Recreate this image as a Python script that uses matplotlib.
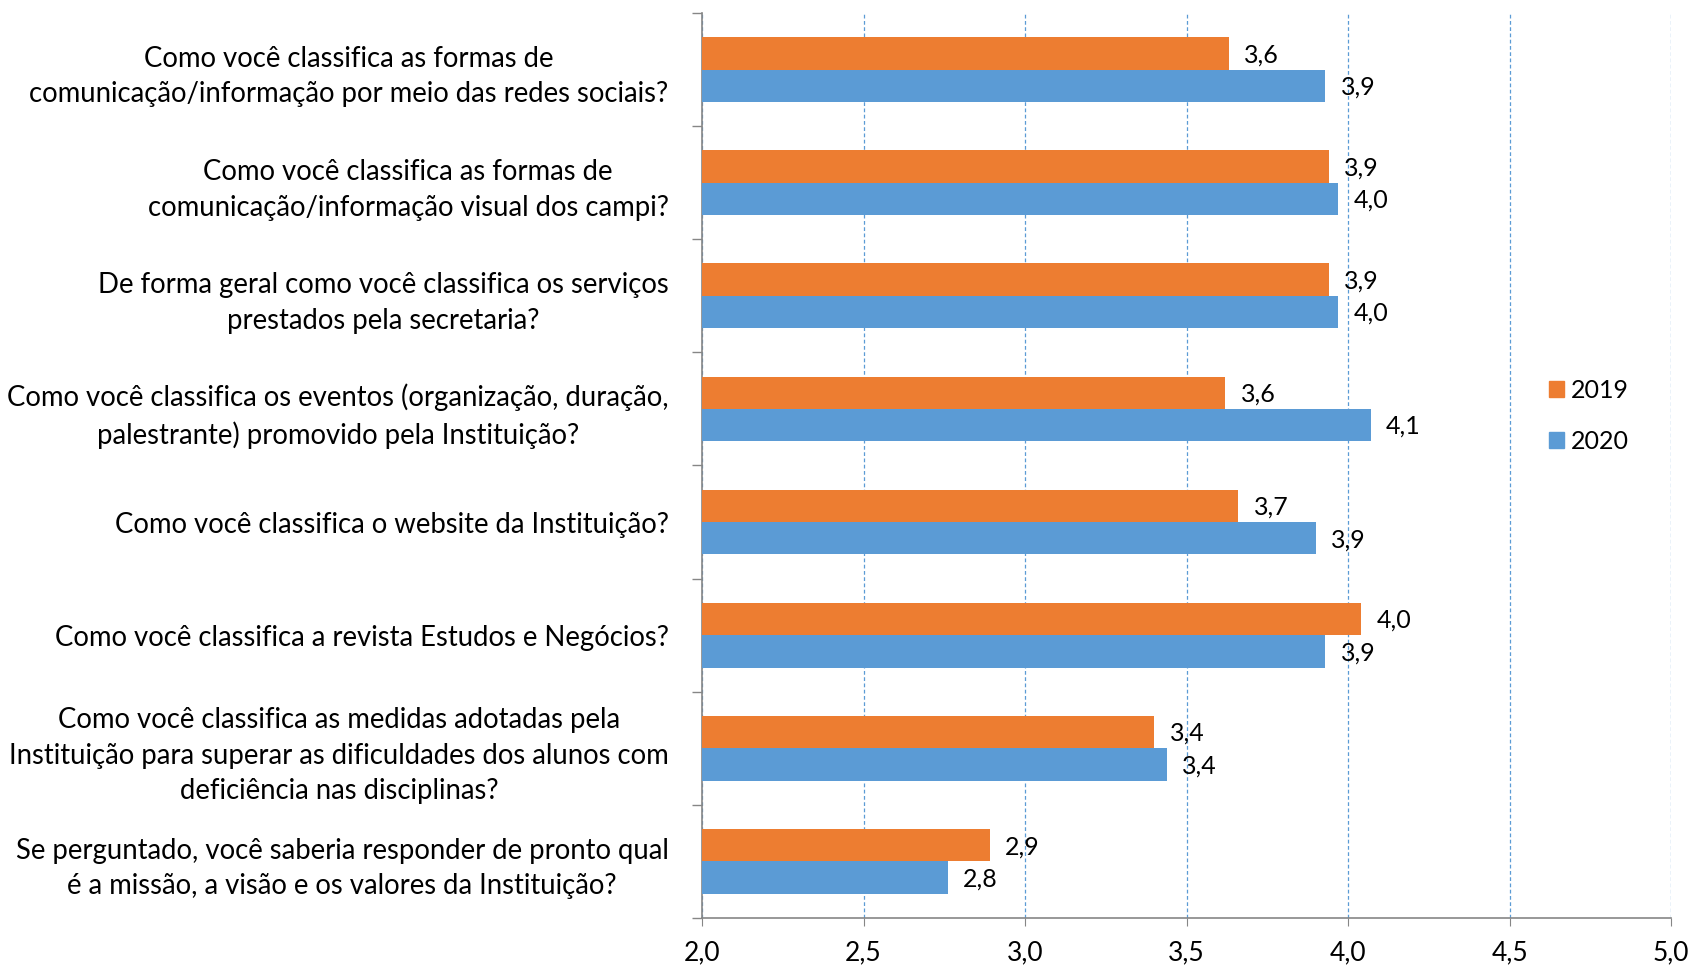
import matplotlib.pyplot as plt
from matplotlib.patches import Patch
from matplotlib.ticker import FuncFormatter, MultipleLocator
import numpy as np

plt.rcParams['font.family'] = ['Lato', 'DejaVu Sans']

questions = [
    "Como você classifica as formas de\ncomunicação/informação por meio das redes sociais?",
    "Como você classifica as formas de\ncomunicação/informação visual dos campi?",
    "De forma geral como você classifica os serviços\nprestados pela secretaria?",
    "Como você classifica os eventos (organização, duração,\npalestrante) promovido pela Instituição?",
    "Como você classifica o website da Instituição?",
    "Como você classifica a revista Estudos e Negócios?",
    "Como você classifica as medidas adotadas pela\nInstituição para superar as dificuldades dos alunos com\ndeficiência nas disciplinas?",
    "Se perguntado, você saberia responder de pronto qual\né a missão, a visão e os valores da Instituição?",
]
vals_2019 = [3.63, 3.94, 3.94, 3.62, 3.66, 4.04, 3.40, 2.89]
vals_2020 = [3.93, 3.97, 3.97, 4.07, 3.90, 3.93, 3.44, 2.76]
series = ["2019", "2020"]
colors = ["#ED7D31", "#5B9BD5"]

fig = plt.figure(figsize=(16.9, 9.67), dpi=100)
ax = fig.add_axes([0.4154, 0.0507, 0.5734, 0.9359])

y = np.arange(len(questions))
h = 0.286
ax.barh(y - h/2, vals_2019, height=h, left=0, color=colors[0], zorder=3)
ax.barh(y + h/2, vals_2020, height=h, left=0, color=colors[1], zorder=3)

def fmt(v):
    return ("%.1f" % v).replace(".", ",")

for i in range(len(questions)):
    ax.annotate(fmt(vals_2019[i]), (vals_2019[i], y[i] - h/2), xytext=(11, -1),
                textcoords="offset points", va="center", ha="left", fontsize=18, zorder=4)
    ax.annotate(fmt(vals_2020[i]), (vals_2020[i], y[i] + h/2), xytext=(11, -1),
                textcoords="offset points", va="center", ha="left", fontsize=18, zorder=4)

ax.set_xlim(2.0, 5.0)
ax.set_ylim(len(questions) - 0.5, -0.5)
ax.xaxis.set_major_locator(MultipleLocator(0.5))
ax.xaxis.set_major_formatter(FuncFormatter(lambda v, p: fmt(v)))
ax.grid(axis="x", color="#5B9BD5", linestyle=(0, (3, 2)), linewidth=0.9, zorder=1)

ax.set_yticks(y)
ax.set_yticklabels(questions, fontsize=19.8, multialignment="center", linespacing=1.45)
ax.set_yticks(np.arange(-0.5, len(questions), 1.0), minor=True)
ax.tick_params(axis="y", which="major", length=0, pad=24)
ax.tick_params(axis="y", which="minor", length=7, color="#868686", width=1)
ax.tick_params(axis="x", length=6, color="#868686", labelsize=19, pad=10)

for s in ["top", "right"]:
    ax.spines[s].set_visible(False)
ax.spines["left"].set_color("#868686")
ax.spines["bottom"].set_color("#868686")
ax.spines["left"].set_linewidth(1.2)
ax.spines["bottom"].set_linewidth(1.2)
ax.set_facecolor("none")

handles = [Patch(color=c) for c in colors]
fig.legend(handles, series, loc="center left", bbox_to_anchor=(0.903, 0.57),
           frameon=False, fontsize=18, handlelength=0.6, handleheight=0.6,
           handletextpad=0.3, labelspacing=1.1)

fig.savefig("out.png", dpi=100)
